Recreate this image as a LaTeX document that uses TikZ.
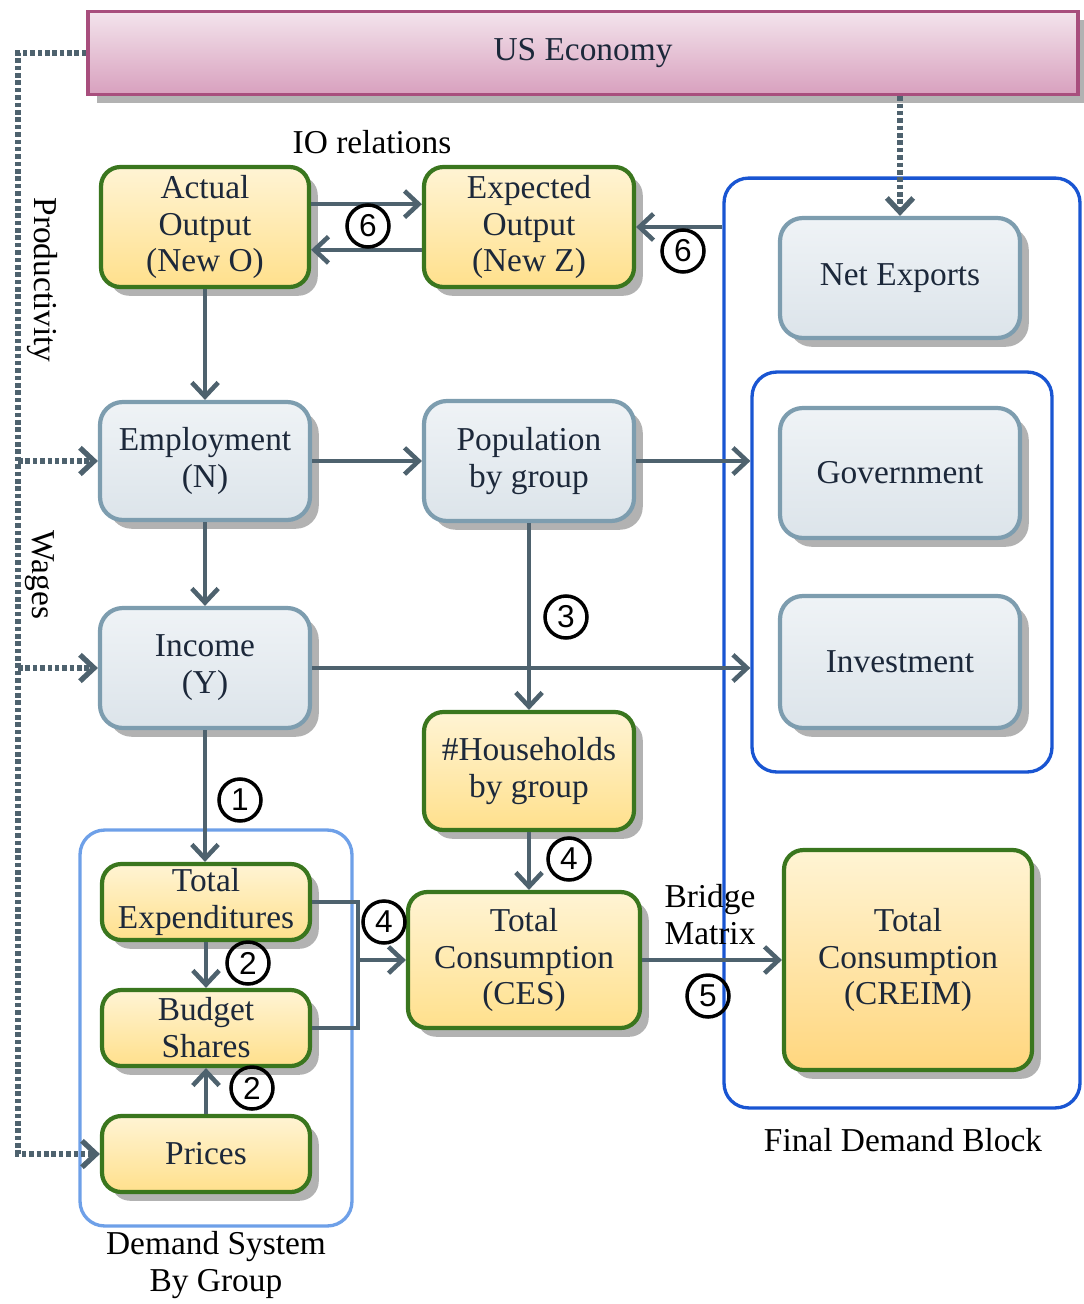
\documentclass[tikz,border=0pt]{standalone}
\usepackage{fontspec}
\setmainfont{Liberation Serif}
\setsansfont{Liberation Sans}
\usetikzlibrary{arrows.meta,shadows}

\definecolor{linkgray}{RGB}{78,98,110}
\definecolor{boxgreen}{RGB}{58,118,30}
\definecolor{yeltop}{RGB}{255,244,212}
\definecolor{yelbot}{RGB}{255,224,140}
\definecolor{greytop}{RGB}{239,243,246}
\definecolor{greybot}{RGB}{220,228,234}
\definecolor{greyline}{RGB}{125,157,175}
\definecolor{usline}{RGB}{168,78,125}
\definecolor{ustop}{RGB}{243,228,236}
\definecolor{usbot}{RGB}{216,160,190}
\definecolor{blockblue}{RGB}{25,85,210}
\definecolor{sysblue}{RGB}{110,160,232}
\definecolor{txtnavy}{RGB}{28,40,58}

\begin{document}
\begin{tikzpicture}[x=0.02cm, y=-0.02cm,
    font=\fontsize{19}{21}\selectfont,
    shadowed/.style={drop shadow={shadow xshift=5pt, shadow yshift=-5pt, fill=black!30, opacity=1}},
    yelbox/.style={rectangle, rounded corners=11pt, draw=boxgreen, line width=2.4pt, top color=yeltop, bottom color=yelbot, text=txtnavy, align=center, inner sep=1pt, shadowed},
    greybox/.style={rectangle, rounded corners=13pt, draw=greyline, line width=2.4pt, top color=greytop, bottom color=greybot, text=txtnavy, align=center, inner sep=1pt, shadowed},
    block/.style={rectangle, rounded corners=14pt, draw=blockblue, line width=1.9pt},
    numb/.style={circle, draw=black, line width=2pt, inner sep=0pt, minimum size=0.84cm, font=\sffamily\fontsize{18}{18}\selectfont},
    link/.style={draw=linkgray, line width=2.6pt, -{Straight Barb[length=8pt,width=15pt]}},
    dotlink/.style={draw=linkgray, line width=3pt, dash pattern=on 2.6pt off 1.6pt, -{Straight Barb[length=8pt,width=15pt]}}]
    \useasboundingbox (0,0) rectangle (1083,1304);

    % containers
    \node[block, minimum width=7.12cm, minimum height=18.6cm] (fdblock) at (902,643) {};
    \node[block, minimum width=6cm, minimum height=8cm] (govinv) at (902,572) {};
    \node[block, draw=sysblue, minimum width=5.44cm, minimum height=7.92cm] (demsys) at (216,1028) {};

    % boxes
    \node[rectangle, draw=usline, line width=1.9pt, top color=ustop, bottom color=usbot, text=txtnavy, minimum width=19.8cm, minimum height=1.66cm, shadowed] (us) at (583,53) {US Economy};
    \node[yelbox, minimum width=4.16cm, minimum height=2.4cm] (actual) at (205,227) {Actual\\Output\\(New O)};
    \node[yelbox, minimum width=4.2cm, minimum height=2.4cm] (expected) at (529,227) {Expected\\Output\\(New Z)};
    \node[greybox, minimum width=4.8cm, minimum height=2.4cm] (netexp) at (900,278) {Net Exports};
    \node[greybox, minimum width=4.2cm, minimum height=2.36cm] (employ) at (205,461) {Employment\\(N)};
    \node[greybox, minimum width=4.2cm, minimum height=2.4cm] (popul) at (529,461) {Population\\by group};
    \node[greybox, minimum width=4.8cm, minimum height=2.6cm] (govt) at (900,473) {Government};
    \node[greybox, minimum width=4.2cm, minimum height=2.4cm] (income) at (205,668) {Income\\(Y)};
    \node[greybox, minimum width=4.8cm, minimum height=2.64cm] (invest) at (900,662) {Investment};
    \node[yelbox, minimum width=4.2cm, minimum height=2.36cm] (househ) at (529,771) {\#Households\\by group};
    \node[yelbox, minimum width=4.16cm, minimum height=1.52cm] (totexp) at (206,902) {Total\\Expenditures};
    \node[yelbox, minimum width=4.16cm, minimum height=1.52cm] (budget) at (206,1028) {Budget\\Shares};
    \node[yelbox, minimum width=4.16cm, minimum height=1.52cm] (prices) at (206,1154) {Prices};
    \node[yelbox, minimum width=4.64cm, minimum height=2.72cm] (ces) at (524,960) {Total\\Consumption\\(CES)};
    \node[yelbox, bottom color=yelbot!90!orange, minimum width=4.96cm, minimum height=4.4cm] (creim) at (908,960) {Total\\Consumption\\(CREIM)};

    % links
    \draw[link] ([yshift=13pt]actual.east) -- ([yshift=13pt]expected.west);
    \draw[link] ([yshift=-13pt]expected.west) -- ([yshift=-13pt]actual.east);
    \draw[link] (expected.east -| fdblock.west) -- (expected.east);
    \draw[link] (actual.south) -- (employ.north);
    \draw[link] (employ.east) -- (popul.west);
    \draw[link] (popul.east) -- (popul.east -| govinv.west);
    \draw[link] (employ.south) -- (income.north);
    \draw[link] (popul.south) -- (househ.north);
    \draw[link] (income.east) -- (income.east -| govinv.west);
    \draw[link] (income.south) -- (income.south |- totexp.north);
    \draw[link] (househ.south) -- (househ.south |- ces.north);
    \draw[link] (totexp.south) -- (budget.north);
    \draw[link] (prices.north) -- (budget.south);
    \coordinate (jn) at (358,960);
    \draw[draw=linkgray, line width=2.6pt] (totexp.east) -| (jn) |- (budget.east);
    \draw[link] (jn) -- (ces.west);
    \draw[link] (ces.east) -- (creim.west);

    % dotted links
    \coordinate (lft) at (18,1154);
    \draw[dotlink] (us.west) -| (lft) -- (prices.west);
    \draw[dotlink] (lft |- employ.west) -- (employ.west);
    \draw[dotlink] (lft |- income.west) -- (income.west);
    \draw[dotlink] (us.south -| netexp.north) -- (netexp.north);

    % labels
    \node (iorel) at (372,142) {IO relations};
    \node[rotate=-90] (prod) at (42,280) {Productivity};
    \node[rotate=-90] (wages) at (40,575) {Wages};
    \node (fdlabel) at (903,1140) {Final Demand Block};
    \node[align=center] (dslabel) at (216,1265) {Demand System\\By Group};
    \node[align=center] (bridge) at (710,915) {Bridge\\Matrix};

    % step numbers
    \node[numb] (n6a) at (368,226) {6};
    \node[numb] (n6b) at (683,251) {6};
    \node[numb] (n3) at (566,617) {3};
    \node[numb] (n1) at (240,800) {1};
    \node[numb] (n4a) at (569,859) {4};
    \node[numb] (n4b) at (384,922) {4};
    \node[numb] (n2a) at (248,963) {2};
    \node[numb] (n2b) at (252,1088) {2};
    \node[numb] (n5) at (708,996) {5};
\end{tikzpicture}
\end{document}
